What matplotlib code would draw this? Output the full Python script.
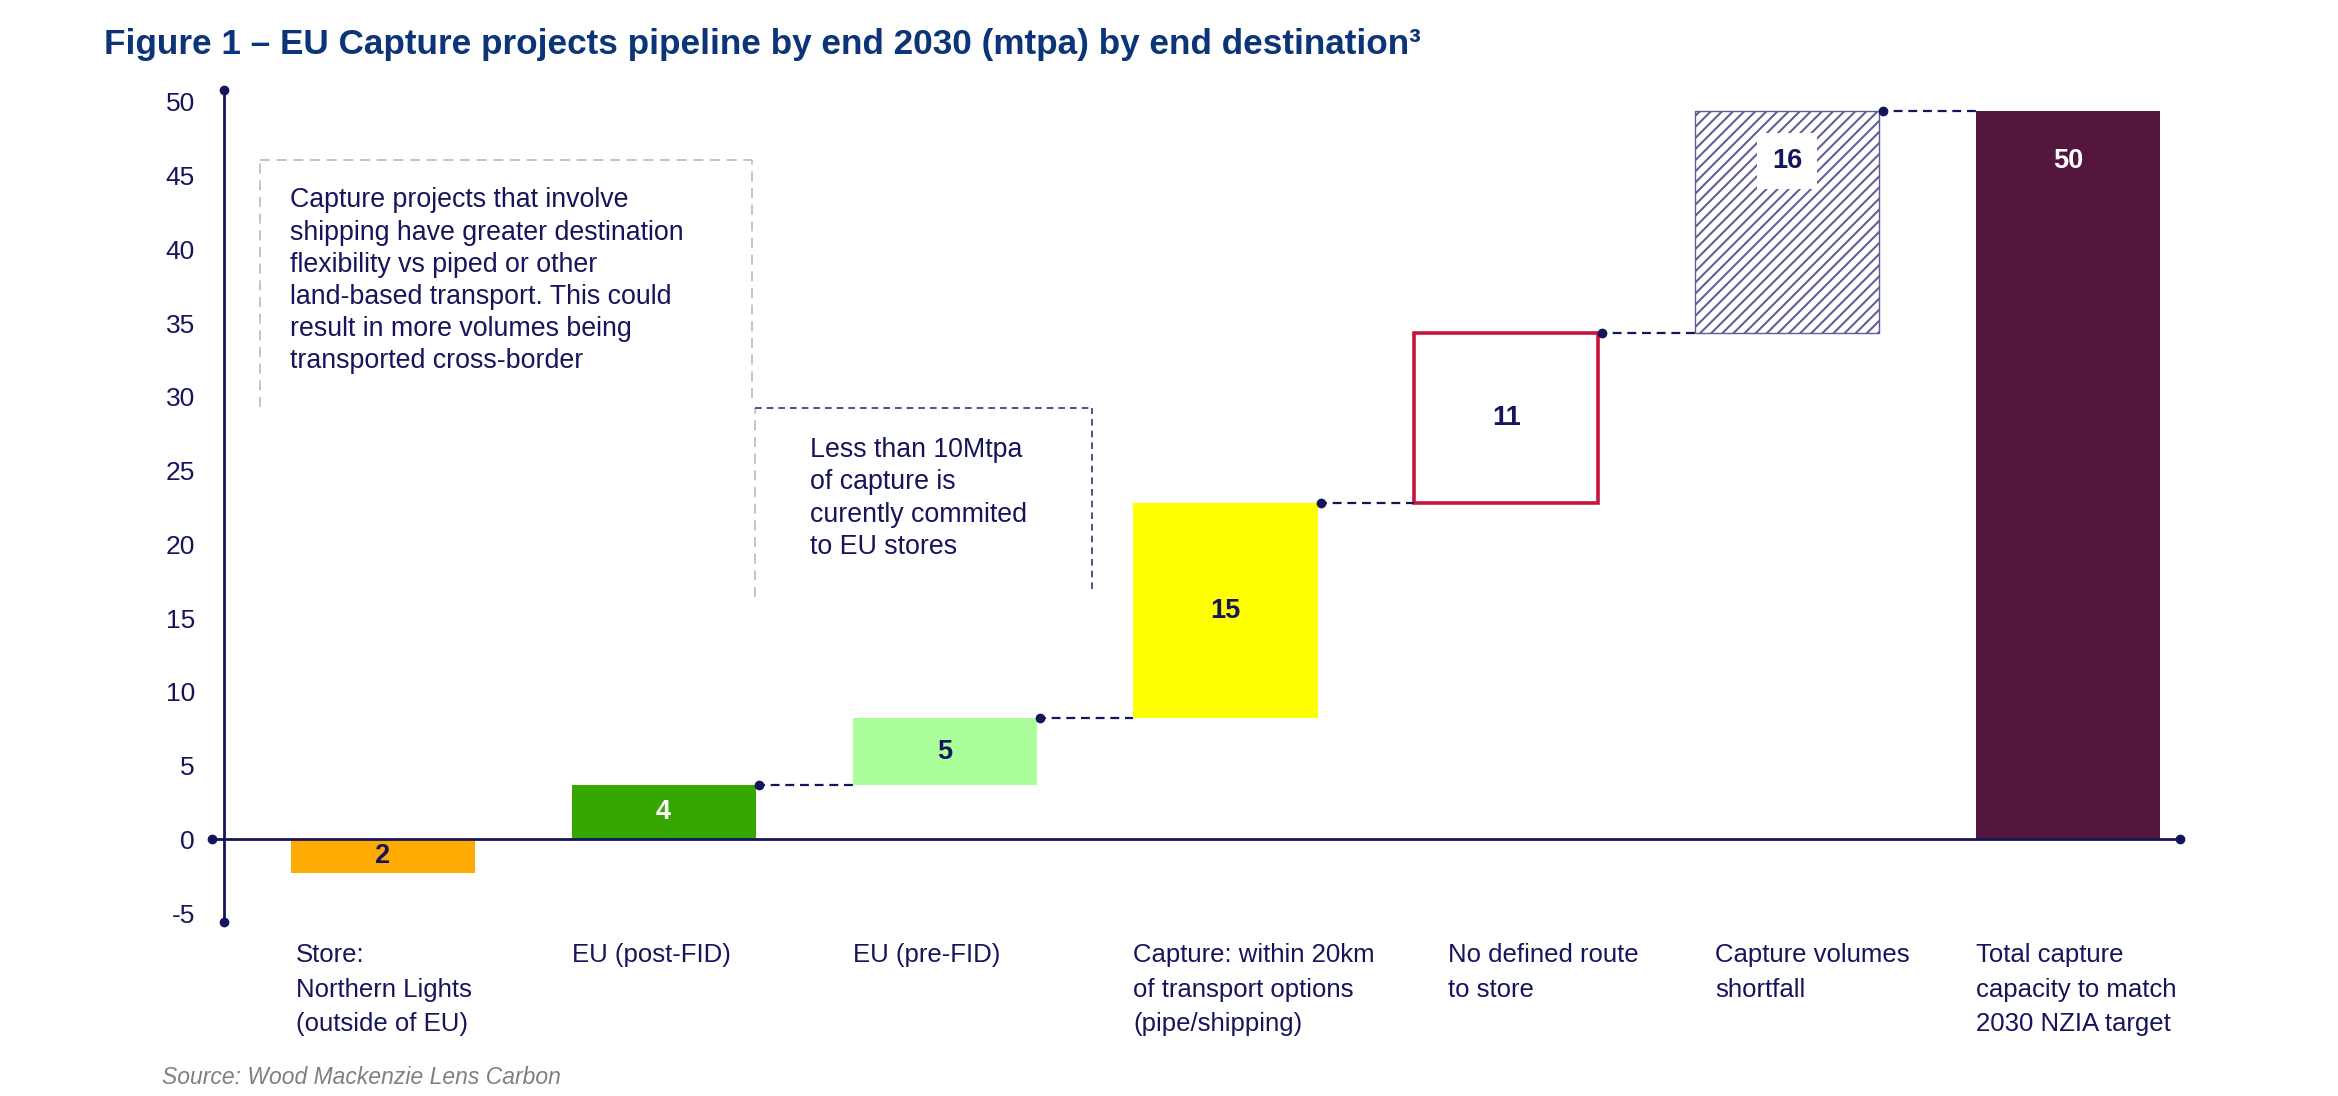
import matplotlib
matplotlib.use("Agg")
import matplotlib.pyplot as plt
import numpy as np

# ---------------- data ----------------
categories = [
    "Store:\nNorthern Lights\n(outside of EU)",
    "EU (post-FID)",
    "EU (pre-FID)",
    "Capture: within 20km\nof transport options\n(pipe/shipping)",
    "No defined route\nto store",
    "Capture volumes\nshortfall",
    "Total capture\ncapacity to match\n2030 NZIA target",
]
store_value = -2.3                          # outside-EU store (below zero)
step_values = [3.7, 4.5, 14.6, 11.5, 15.1]  # cascading steps
total_value = 49.4
value_labels = ["2", "4", "5", "15", "11", "16", "50"]
y_ticks = [-5, 0, 5, 10, 15, 20, 25, 30, 35, 40, 45, 50]
y_tick_labels = ["-5", "0", "5", "10", "15", "20", "25", "30", "35", "40", "45", "50"]

title = "Figure 1 \u2013 EU Capture projects pipeline by end 2030 (mtpa) by end destination\u00b3"
note1 = ("Capture projects that involve\nshipping have greater destination\n"
         "flexibility vs piped or other\nland-based transport. This could\n"
         "result in more volumes being\ntransported cross-border")
note2 = "Less than 10Mtpa\nof capture is\ncurently commited\nto EU stores"
source = "Source: Wood Mackenzie Lens Carbon"

# ---------------- style ----------------
plt.rcParams["font.family"] = ["Liberation Sans", "DejaVu Sans"]
plt.rcParams["hatch.color"] = "#3c3c7c"
plt.rcParams["hatch.linewidth"] = 1.45
NAVY = "#15155c"
TITLE_BLUE = "#0b3479"
W = 0.655

fig = plt.figure(figsize=(23.38, 10.96), dpi=100)
ax = fig.add_axes([0.08554, 0.15347, 0.85321, 0.77381])
ax.set_xlim(-0.65, 6.45)
ax.set_ylim(-6, 51.5)

x = np.arange(len(categories))

# waterfall geometry from the data
cum = np.concatenate([[0.0], np.cumsum(step_values)])
heights = [store_value] + list(step_values) + [total_value]
bottoms = [0.0] + list(cum[:-1]) + [0.0]
tops = [b + h for b, h in zip(bottoms, heights)]

styles = [
    dict(color="#ffaa00"),
    dict(color="#36a600"),
    dict(color="#aaff9c"),
    dict(color="#ffff00"),
    dict(facecolor="white", edgecolor="#c8143c", linewidth=2.6),
    dict(facecolor="white", edgecolor="#5c5c98", linewidth=1.0, hatch="///"),
    dict(color="#54163e"),
]
for i in range(len(categories)):
    ax.bar(x[i], heights[i], bottom=bottoms[i], width=W, zorder=2, **styles[i])

# connectors
for i in range(1, len(categories) - 1):
    level = tops[i]
    ax.plot([x[i] + W / 2, x[i + 1] - W / 2], [level, level], color=NAVY,
            lw=1.6, ls=(0, (4, 2.6)), zorder=3)
    ax.plot([x[i] + W / 2 + 0.012], [level], "o", color=NAVY, ms=6, zorder=4)

# value labels
label_colors = [NAVY, "white", NAVY, NAVY, NAVY, NAVY, "white"]
for i, lab in enumerate(value_labels):
    if i >= 5:
        ypos = tops[i] - 3.4
    else:
        ypos = bottoms[i] + heights[i] / 2
    kw = {}
    if i == 5:
        kw["bbox"] = dict(boxstyle="square,pad=0.55", fc="white", ec="none")
    ax.text(x[i], ypos, lab, ha="center", va="center", fontsize=19.5,
            fontweight="bold", color=label_colors[i], zorder=5, **kw)

# axes lines
for s in ["top", "right"]:
    ax.spines[s].set_visible(False)
ax.spines["left"].set_position(("data", -0.5645))
ax.spines["left"].set_bounds(-5.6, 50.8)
ax.spines["bottom"].set_position(("data", 0))
ax.spines["bottom"].set_bounds(-0.608, 6.396)
for s in ["left", "bottom"]:
    ax.spines[s].set_color(NAVY)
    ax.spines[s].set_linewidth(2.0)
    ax.spines[s].set_zorder(3)
ax.plot([-0.5645, -0.5645], [-5.6, 50.8], "o", color=NAVY, ms=6, clip_on=False, zorder=4)
ax.plot([-0.608, 6.396], [0, 0], "o", color=NAVY, ms=6, clip_on=False, zorder=4)

ax.set_yticks(y_ticks)
ax.set_yticklabels(y_tick_labels)
ax.tick_params(axis="y", length=0, pad=21, labelsize=19, labelcolor=NAVY)
ax.set_xticks(x - W / 2 + np.array([0.02, 0, 0, 0, 0.12, 0.07, 0]))
ax.set_xticklabels(categories, ha="left", linespacing=1.55)
ax.tick_params(axis="x", length=0, pad=75, labelsize=18.5, labelcolor=NAVY)

# annotation boxes (dashed partial frames)
LG = "#b8b8c8"
ax.plot([-0.436, -0.436], [29.3, 46.05], color=LG, lw=1.2, ls=(0, (6, 4)))
ax.plot([-0.436, 1.315], [46.05, 46.05], color=LG, lw=1.2, ls=(0, (6, 4)))
ax.plot([1.315, 1.315], [29.9, 46.05], color=LG, lw=1.2, ls=(0, (6, 4)))
ax.plot([1.325, 1.325], [16.4, 29.24], color=LG, lw=1.2, ls=(0, (6, 4)))
ax.plot([1.325, 2.525], [29.24, 29.24], color="#33336e", lw=1.2, ls=(0, (4, 3)))
ax.plot([2.525, 2.525], [17.0, 29.24], color="#33336e", lw=1.2, ls=(0, (4, 3)))
ax.text(-0.328, 44.2, note1, ha="left", va="top", fontsize=19.3, color=NAVY,
        linespacing=1.31)
ax.text(1.52, 27.3, note2, ha="left", va="top", fontsize=19.3, color=NAVY,
        linespacing=1.33)

fig.text(0.0445, 0.9507, title, ha="left", va="baseline", fontsize=25.3,
         fontweight="bold", color=TITLE_BLUE)
fig.text(0.0693, 0.011, source, ha="left", va="baseline", fontsize=16.5,
         style="italic", color="#808080")

fig.savefig("out.png", dpi=100)
